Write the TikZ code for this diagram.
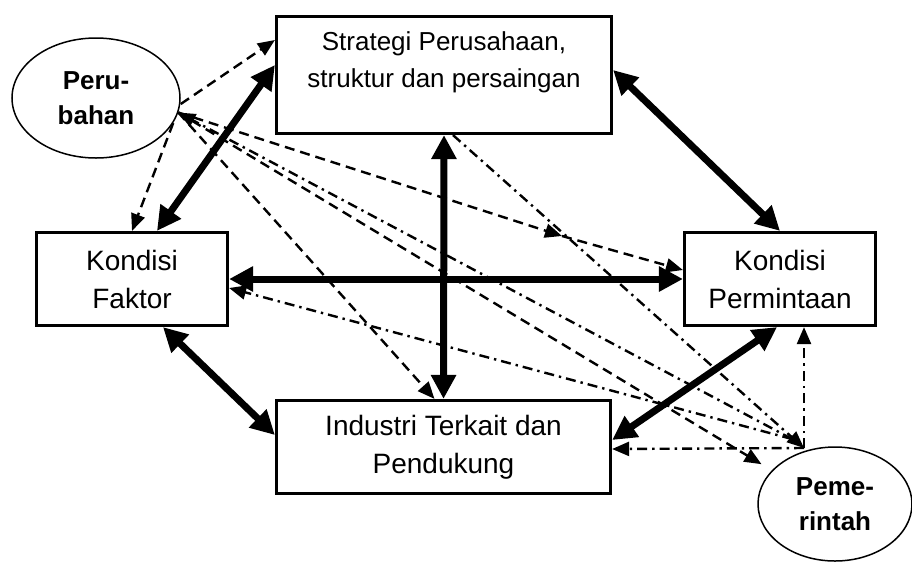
\documentclass[tikz,border=0pt]{standalone}
\usepackage{fontspec}
\setmainfont{Liberation Sans}
\usetikzlibrary{shapes, arrows.meta, positioning}

\begin{document}
\begin{tikzpicture}[x=1pt, y=-1pt, >={Triangle[length=17pt,width=14pt]}]
    \tikzstyle{block} = [rectangle, draw, line width=3.2pt, align=center, minimum width=191pt, minimum height=93pt, font=\fontsize{28}{38}\selectfont]
    \tikzstyle{bubble} = [ellipse, draw, line width=1.5pt, align=center, inner sep=0pt, font=\bfseries\fontsize{26}{35}\selectfont]
    \tikzstyle{force} = [line width=7pt, {Triangle[length=24pt,width=24pt]}-{Triangle[length=24pt,width=24pt]}]
    \tikzstyle{influence} = [line width=2.4pt, dash pattern=on 10pt off 6pt]
    \tikzstyle{policy} = [line width=2.4pt, dash pattern=on 10pt off 5pt on 2.4pt off 5pt]

    \useasboundingbox (0,0) rectangle (912,563);

    \node [block, minimum width=335pt, minimum height=117pt, label={[name=strategitext, align=center, font=\fontsize{26}{37}\selectfont, yshift=13pt]center:Strategi Perusahaan,\\struktur dan persaingan}] (strategi) at (444,75) {};
    \node [block] (faktor) at (132,279) {Kondisi\\Faktor};
    \node [block] (permintaan) at (780,279) {Kondisi\\Permintaan};
    \node [block, minimum width=334pt] (industri) at (443.5,447) {Industri Terkait dan\\Pendukung};
    \node [bubble, minimum width=168pt, minimum height=120pt] (perubahan) at (96,98) {Peru-\\bahan};
    \node [bubble, minimum width=154pt, minimum height=114pt] (pemerintah) at (835,504) {Peme-\\rintah};

    \coordinate (hub) at (792,439);
    \coordinate (corner) at (804,448);
    \coordinate (mid) at (562,236);

    % thick links between the four determinants
    \draw [force] ([xshift=25pt]faktor.north) -- ([yshift=10pt]strategi.west);
    \draw [force] ([yshift=5pt]strategi.east) -- (permintaan.north);
    \draw [force] (faktor.east) -- (permintaan.west);
    \draw [force] (strategi.south) -- (industri.north);
    \draw [force] ([xshift=31pt]faktor.south) -- ([yshift=12pt]industri.west);
    \draw [force] ([yshift=7pt]industri.east) -- ([xshift=-3pt]permintaan.south);

    % dashed lines of Perubahan
    \draw [influence, ->] ([yshift=-6pt]perubahan.east) -- ([yshift=35pt]strategi.west);
    \draw [influence, ->] (perubahan.-18) -- (faktor.north);
    \draw [influence, ->] (perubahan.-10) -- (mid);
    \draw [influence, ->] (mid) -- ([yshift=9pt]permintaan.west);
    \draw [influence, ->] (perubahan.-10) -- ([xshift=-9pt]industri.north);
    \draw [influence, ->, shorten >=12pt] (perubahan.-10) -- (pemerintah.152);

    % dash-dotted lines of Pemerintah
    \draw [policy, ->] ([xshift=9pt]strategi.south) -- (corner);
    \draw [policy, ->] (hub) -- (perubahan.-10);
    \draw [policy, ->] (hub) -- ([yshift=-9pt]faktor.east);
    \draw [policy, ->] (corner) -- ([yshift=-2pt]industri.east);
    \draw [policy, ->] (corner) -- ([xshift=24pt]permintaan.south);
\end{tikzpicture}
\end{document}
